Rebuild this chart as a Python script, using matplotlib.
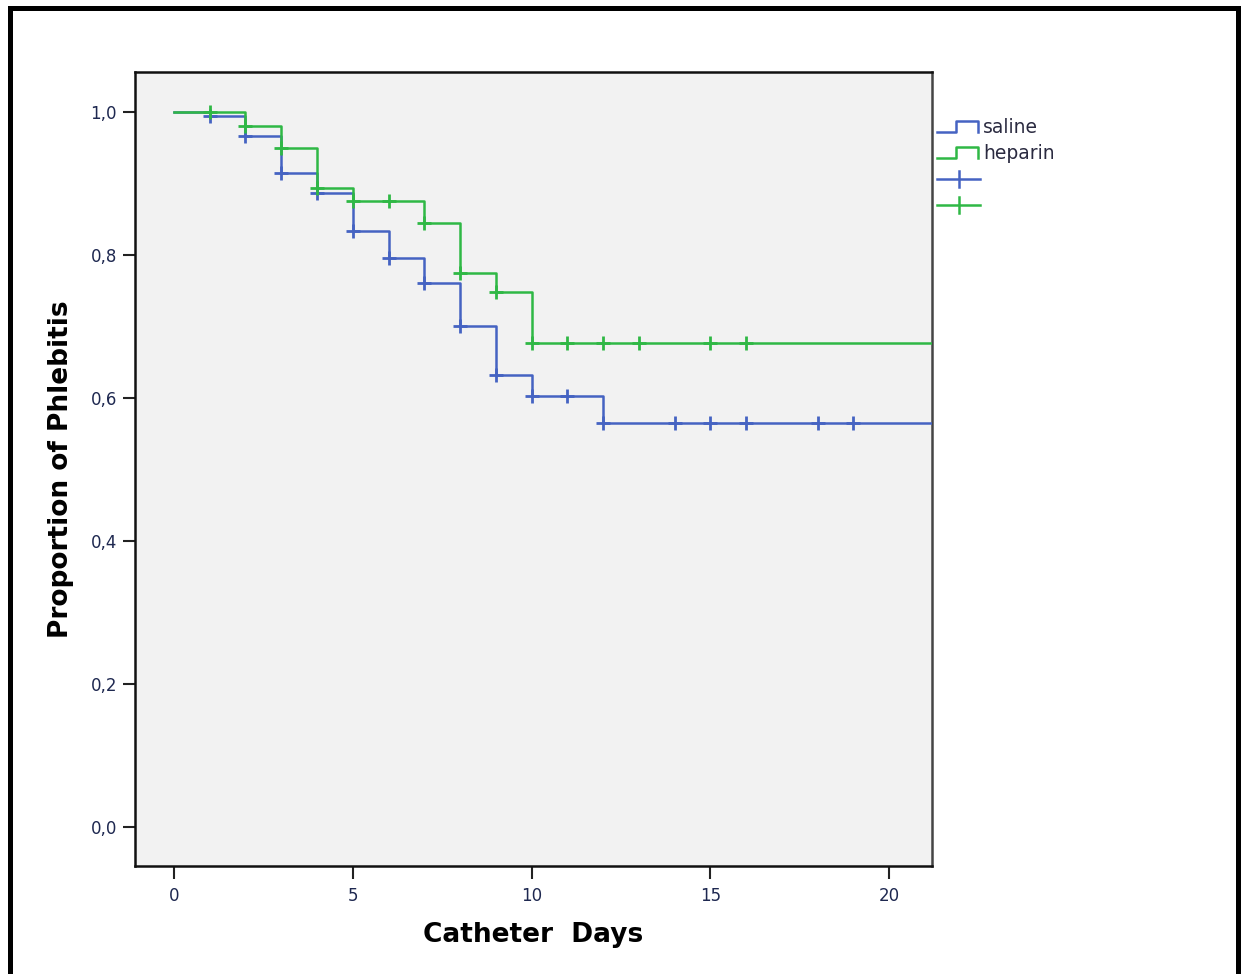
import matplotlib
matplotlib.use("Agg")
import matplotlib.pyplot as plt
from matplotlib.lines import Line2D
from matplotlib.legend_handler import HandlerBase
from matplotlib.patches import Rectangle
from matplotlib.ticker import FuncFormatter

# ---------------- data ----------------
groups = ["saline", "heparin"]
colors = {"saline": "#4563c2", "heparin": "#2fb845"}

saline_times = [0, 1, 2, 3, 4, 5, 6, 7, 8, 9, 10, 12]
saline_surv = [1.0, 0.994, 0.967, 0.915, 0.887, 0.834, 0.796, 0.761, 0.700, 0.632, 0.603, 0.565]
saline_censor = [1, 2, 3, 4, 5, 6, 7, 8, 9, 10, 11, 12, 14, 15, 16, 18, 19]

heparin_times = [0, 2, 3, 4, 5, 7, 8, 9, 10]
heparin_surv = [1.0, 0.981, 0.949, 0.893, 0.875, 0.845, 0.775, 0.748, 0.677]
heparin_censor = [1, 2, 3, 4, 5, 6, 7, 8, 9, 10, 11, 12, 13, 15, 16]

follow_up_end = 21.2

x_ticks = [0, 5, 10, 15, 20]
y_ticks = [0.0, 0.2, 0.4, 0.6, 0.8, 1.0]

series = {
    "saline": (saline_times, saline_surv, saline_censor),
    "heparin": (heparin_times, heparin_surv, heparin_censor),
}

# ---------------- figure ----------------
fig = plt.figure(figsize=(12.43, 9.74), dpi=100)
fig.patch.set_facecolor("white")
ax = fig.add_axes([135 / 1243, 1 - 866 / 974, (932 - 135) / 1243, (866 - 72) / 974])
ax.set_facecolor("#f2f2f2")


def surv_at(times, surv, t):
    v = surv[0]
    for ti, si in zip(times, surv):
        if ti <= t:
            v = si
    return v


for g in groups:
    times, surv, cens = series[g]
    xs = list(times) + [follow_up_end]
    ys = list(surv) + [surv[-1]]
    ax.step(xs, ys, where="post", color=colors[g], lw=1.8, zorder=3)
    cy = [surv_at(times, surv, t) for t in cens]
    ax.plot(cens, cy, linestyle="none", marker="+", markersize=10,
            markeredgewidth=2.0, color=colors[g], zorder=4)

ax.set_xlim(-1.09, follow_up_end)
ax.set_ylim(-0.055, 1.056)
ax.set_xticks(x_ticks)
ax.set_yticks(y_ticks)
ax.yaxis.set_major_formatter(FuncFormatter(lambda v, p: f"{v:.1f}".replace(".", ",")))

ax.tick_params(axis="both", direction="out", length=9, width=1.5, color="#222222",
               labelsize=12, labelcolor="#1e2850", pad=4)
ax.tick_params(axis="x", pad=6)
for s in ["left", "bottom", "top"]:
    ax.spines[s].set_color("#111111")
    ax.spines[s].set_linewidth(1.8)
ax.spines["right"].set_color("#444444")
ax.spines["right"].set_linewidth(1.8)

ax.set_xlabel("Catheter  Days", fontsize=19, fontweight="bold", labelpad=12, color="black")
ax.set_ylabel("Proportion of Phlebitis", fontsize=19, fontweight="bold", labelpad=12, color="black")


# ---------------- legend ----------------
class StepHandler(HandlerBase):
    def create_artists(self, legend, orig_handle, xdescent, ydescent, width, height,
                       fontsize, trans):
        x0, x1 = -xdescent, -xdescent + width
        y0, y1 = -ydescent + 0.1 * height, -ydescent + 0.9 * height
        xm = x0 + 0.45 * width
        xr = x0 + 0.95 * width
        ln = Line2D([x0, xm, xm, xr, xr], [y0, y0, y1, y1, y0],
                    color=orig_handle.get_color(), lw=1.8, transform=trans)
        return [ln]


class CrossHandler(HandlerBase):
    def create_artists(self, legend, orig_handle, xdescent, ydescent, width, height,
                       fontsize, trans):
        x0, x1 = -xdescent, -xdescent + width
        yc = -ydescent + 0.5 * height
        xc = x0 + 0.5 * width
        h = Line2D([x0, x1], [yc, yc], color=orig_handle.get_color(), lw=1.8, transform=trans)
        v = Line2D([xc, xc], [yc - 0.6 * height, yc + 0.6 * height],
                   color=orig_handle.get_color(), lw=1.8, transform=trans)
        return [h, v]


class StepKey(Line2D):
    pass


class CrossKey(Line2D):
    pass


handles = [StepKey([], [], color=colors["saline"]), StepKey([], [], color=colors["heparin"]),
           CrossKey([], [], color=colors["saline"]), CrossKey([], [], color=colors["heparin"])]
labels = ["saline", "heparin", "", ""]
leg = fig.legend(handles, labels, loc="upper left", bbox_to_anchor=(937 / 1243, 1 - 118 / 974),
                 frameon=False, fontsize=13.5, handlelength=2.3, handletextpad=0.15,
                 labelspacing=0.38, borderaxespad=0, borderpad=0,
                 handler_map={StepKey: StepHandler(), CrossKey: CrossHandler()})
for t in leg.get_texts():
    t.set_color("#2a2a40")

# ---------------- outer frame ----------------
fig.patches.append(Rectangle((10 / 1243, -0.05), (1238 - 10) / 1243, 1 - 7.5 / 974 + 0.05,
                             transform=fig.transFigure, fill=False, edgecolor="black",
                             linewidth=3.6, zorder=10))

fig.savefig("out.png", dpi=100)
